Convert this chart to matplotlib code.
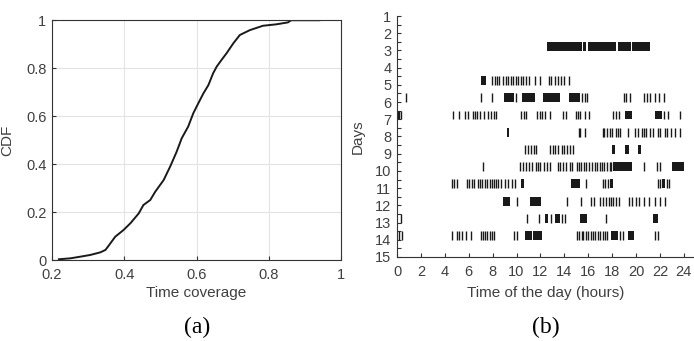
import matplotlib
matplotlib.use("Agg")
import matplotlib.pyplot as plt
import numpy as np

plt.rcParams['font.family'] = ['Liberation Sans', 'DejaVu Sans']

# (a) CDF of time coverage
coverage = [0.219, 0.251, 0.279, 0.306, 0.334, 0.348, 0.357, 0.375, 0.398, 0.417,
            0.440, 0.453, 0.472, 0.486, 0.509, 0.527, 0.545, 0.559, 0.577, 0.591,
            0.605, 0.619, 0.633, 0.646, 0.656, 0.669, 0.683, 0.702, 0.720, 0.748,
            0.784, 0.821, 0.853, 0.862, 0.940]
cdf = [0.003, 0.007, 0.014, 0.021, 0.032, 0.042, 0.060, 0.097, 0.125, 0.153,
       0.194, 0.229, 0.250, 0.285, 0.333, 0.389, 0.451, 0.507, 0.556, 0.611,
       0.653, 0.694, 0.729, 0.778, 0.806, 0.833, 0.861, 0.903, 0.9375, 0.958,
       0.976, 0.982, 0.990, 0.999, 0.999]

# (b) activity per day: single events (hours) and dense blocks (start, end)
days = [3, 5, 6, 7, 8, 9, 10, 11, 12, 13, 14]
events = {
    3: [],
    5: [7.96, 8.2, 8.4, 8.55, 8.9, 9.1, 9.3, 9.5, 9.7, 9.95, 10.15, 10.35, 10.55,
        10.77, 11.05, 11.52, 11.94, 12.72, 12.92, 13.2, 13.48, 13.76, 13.95, 14.37],
    6: [0.73, 7.0, 7.96, 9.95, 15.5, 15.7, 15.9, 19.0, 19.2, 19.5, 20.7, 20.95,
        21.2, 21.55, 21.9, 22.3],
    7: [0.05, 0.2, 0.35, 4.7, 5.2, 5.7, 5.9, 6.37, 6.5, 6.7, 6.95, 7.3, 7.6, 7.9,
        8.1, 8.3, 10.4, 10.6, 10.8, 11.7, 11.95, 12.17, 12.36, 12.78, 13.9, 14.1,
        14.95, 15.15, 15.35, 15.7, 16.05, 18.1, 18.35, 18.6, 22.3, 22.65, 23.65],
    8: [15.2, 15.35, 15.75, 17.2, 17.35, 17.6, 17.8, 18.0, 18.3, 18.5, 18.7, 19.35,
        19.95, 20.2, 20.5, 20.7, 20.85, 21.2, 21.4, 21.8, 22.0, 22.4, 22.6, 22.9,
        23.25, 23.65],
    9: [10.7, 10.95, 11.25, 11.45, 11.65, 12.8, 13.05, 13.25, 13.5, 13.8, 14.0,
        14.2, 14.5, 14.75],
    10: [7.2, 10.33, 10.55, 10.83, 11.05, 11.33, 11.6, 11.8, 12.0, 12.27, 12.55,
         12.78, 13.47, 13.6, 13.88, 14.1, 14.45, 14.67, 15.05, 15.22, 15.42, 15.64,
         15.84, 16.06, 16.34, 16.53, 16.72, 16.95, 17.17, 17.36, 17.59, 17.78,
         17.92, 20.7, 21.76, 22.0],
    11: [4.62, 4.78, 4.98, 5.82, 6.0, 6.3, 6.45, 6.74, 6.93, 7.12, 7.35, 7.57,
         7.76, 7.96, 8.12, 8.27, 8.46, 8.74, 9.0, 9.3, 9.66, 9.85, 15.85, 17.2,
         17.37, 17.65, 21.85, 22.0, 22.55, 22.75],
    12: [10.05, 14.2, 15.4, 16.25, 16.45, 16.95, 17.23, 17.5, 17.72, 17.92, 18.1,
         18.33, 18.55, 19.38, 19.66, 20.0, 20.28, 20.64, 21.1, 21.6, 22.0, 22.45],
    13: [0.3, 10.85, 11.9, 12.9, 13.83, 14.03, 17.5],
    14: [0.15, 0.45, 4.62, 4.98, 5.17, 5.4, 5.76, 6.23, 7.07, 7.2, 7.35, 7.57,
         7.76, 7.96, 8.12, 9.77, 10.0, 15.05, 15.25, 15.45, 15.6, 15.8, 16.0, 16.2,
         16.4, 16.6, 16.8, 17.0, 17.2, 17.4, 17.6, 18.65, 18.9, 21.55, 21.8],
}
blocks = {
    3: [(12.55, 15.45), (15.55, 15.8), (15.95, 18.35), (18.5, 19.6), (19.7, 21.15)],
    5: [(7.05, 7.45)],
    6: [(8.95, 9.75), (10.45, 11.55), (12.25, 13.65), (14.4, 15.3)],
    7: [(19.1, 19.65), (21.55, 22.2)],
    8: [(9.2, 9.35)],
    9: [(17.95, 18.2), (19.1, 19.45), (20.15, 20.45)],
    10: [(18.1, 19.65), (23.0, 24.03)],
    11: [(10.35, 10.65), (14.6, 15.3), (17.8, 18.1), (22.2, 22.4)],
    12: [(8.9, 9.45), (11.1, 12.05)],
    13: [(12.4, 12.65), (13.2, 13.6), (15.35, 15.9), (21.4, 21.8)],
    14: [(10.75, 11.3), (11.4, 12.15), (17.9, 18.45), (19.3, 19.85)],
}

axcol = '#333333'
txtcol = '#404040'
mark = '#1a1a1a'

fig = plt.figure(figsize=(6.94, 3.41), dpi=100)

# ---- (a)
ax1 = fig.add_axes([52/694, 81/341, 289/694, 240/341])
ax1.plot(coverage, cdf, color=mark, lw=1.4)
ax1.set_xlim(0.2, 1)
ax1.set_ylim(0, 1)
ax1.set_xticks([0.2, 0.4, 0.6, 0.8, 1.0])
ax1.set_xticklabels(['0.2', '0.4', '0.6', '0.8', '1'])
ax1.set_yticks([0, 0.2, 0.4, 0.6, 0.8, 1.0])
ax1.set_yticklabels(['0', '0.2', '0.4', '0.6', '0.8', '1'])
ax1.grid(True, color='#e3e3e3', lw=0.8)
ax1.set_axisbelow(True)
for s in ax1.spines.values():
    s.set_color(axcol)
    s.set_linewidth(0.8)
ax1.tick_params(direction='in', length=3, width=0.8, color=axcol,
                labelcolor=txtcol, labelsize=10.5, pad=4)
ax1.tick_params(axis='x', pad=6)
ax1.set_xlabel('Time coverage', fontsize=11, color=txtcol)
ax1.set_ylabel('CDF', fontsize=11, color=txtcol)
ax1.xaxis.set_label_coords(0.5, -0.11)
ax1.yaxis.set_label_coords(-0.13, 0.5)

# ---- (b)
ax2 = fig.add_axes([397/694, 84/341, 297/694, 241/341])
for d in days:
    if events[d]:
        ax2.eventplot(events[d], lineoffsets=d - 0.25, linelengths=0.52,
                      colors=mark, linewidths=1.0)
    ax2.broken_barh([(a, b - a) for a, b in blocks[d]], (d - 0.51, 0.52),
                    facecolors=mark, edgecolor='none')
ax2.set_xlim(0, 24.85)
ax2.set_ylim(15, 1)
ax2.set_xticks(range(0, 25, 2))
ax2.set_yticks(range(1, 16))
ax2.set_yticks(np.arange(1.5, 15, 1), minor=True)
for s in ['top', 'right']:
    ax2.spines[s].set_visible(False)
for s in ['left', 'bottom']:
    ax2.spines[s].set_color(axcol)
    ax2.spines[s].set_linewidth(0.8)
ax2.tick_params(which='both', direction='in', length=3, width=0.8, color=axcol,
                labelcolor=txtcol, labelsize=10.5, pad=4)
ax2.tick_params(axis='x', pad=6)
ax2.set_xlabel('Time of the day (hours)', fontsize=11, color=txtcol)
ax2.set_ylabel('Days', fontsize=11, color=txtcol)
ax2.xaxis.set_label_coords(0.5, -0.12)
ax2.yaxis.set_label_coords(-0.11, 0.5)

fig.text(197/694, 1 - 327/341, '(a)', ha='center', va='center', fontsize=17,
         family=['Liberation Serif', 'DejaVu Serif'])
fig.text(546/694, 1 - 327/341, '(b)', ha='center', va='center', fontsize=17,
         family=['Liberation Serif', 'DejaVu Serif'])

fig.savefig('out.png', dpi=100)
